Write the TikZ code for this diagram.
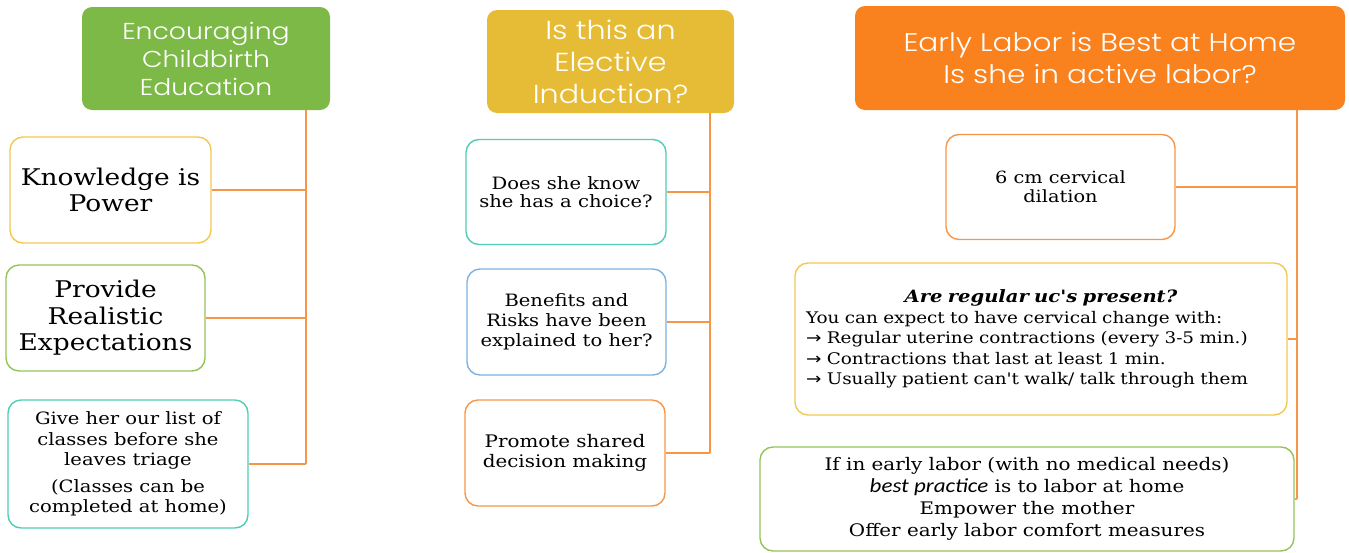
\documentclass[tikz,border=0pt]{standalone}
\usepackage{fontspec}
\setmainfont{DejaVu Serif}[FakeStretch=1.15,Ligatures=TeXOff]
\IfFontExistsTF{Poppins Light}
	{\setsansfont{Poppins Light}[FakeStretch=1.16]}
	{\setsansfont{Poppins}[FakeStretch=1.16]}
\newfontfamily\arrowfont{DejaVu Sans}[FakeStretch=1.15]
\newfontfamily\calfont{Carlito}[FakeStretch=1.15]
\usetikzlibrary{calc}

\definecolor{headgreen}{RGB}{125,185,70}
\definecolor{headgold}{RGB}{230,188,55}
\definecolor{headorange}{RGB}{250,130,30}
\definecolor{linkorange}{RGB}{247,150,70}
\definecolor{bordgold}{RGB}{242,200,80}
\definecolor{bordgreen}{RGB}{146,196,90}
\definecolor{bordteal}{RGB}{80,205,180}
\definecolor{bordblue}{RGB}{125,178,225}

\newcommand{\ra}{{\arrowfont →}\ }

\begin{document}
\begin{tikzpicture}[x=1pt,y=-1pt,
	head/.style={fill=#1,rounded corners=10pt,text=white,align=center,inner sep=0pt,font=\sffamily},
	card/.style={draw=#1,line width=1.4pt,rounded corners=13pt,fill=white,align=center,inner sep=0pt},
	link/.style={draw=linkorange,line width=1.8pt}]
				\useasboundingbox (0,0) rectangle (1349,552);
				% headers
				\node[head=headgreen,minimum width=248pt,minimum height=103pt,font=\sffamily\fontsize{23}{28}\selectfont] (edu) at (206,58.5) {Encouraging\\Childbirth\\Education};
				\node[head=headgold,minimum width=247pt,minimum height=103pt,font=\sffamily\fontsize{26}{32}\selectfont] (ind) at (610.5,61.5) {Is this an\\Elective\\Induction?};
				\node[head=headorange,minimum width=490pt,minimum height=104pt,font=\sffamily\fontsize{25.5}{32}\selectfont] (lab) at (1100,58) {Early Labor is Best at Home\\Is she in active labor?};
				% trunk positions
				\coordinate (t1) at (306,0);
				\coordinate (t2) at (710,0);
				\coordinate (t3) at (1297,0);
				% first column
				\node[card=bordgold,minimum width=201pt,minimum height=106pt,font=\fontsize{23}{26.5}\selectfont] (know) at (110.5,190) {Knowledge is\\Power};
				\node[card=bordgreen,minimum width=199pt,minimum height=106pt,font=\fontsize{23}{26.5}\selectfont] (real) at (105.5,318) {Provide\\Realistic\\Expectations};
				\node[card=bordteal,minimum width=240pt,minimum height=128pt,font=\fontsize{17}{20.5}\selectfont] (list) at (128,464) {Give her our list of\\classes before she\\leaves triage\\[6pt](Classes can be\\completed at home)};
				% second column
				\node[card=bordteal,minimum width=200pt,minimum height=105pt,font=\fontsize{17}{18.5}\selectfont] (choice) at (566,192) {Does she know\\she has a choice?};
				\node[card=bordblue,minimum width=199pt,minimum height=106pt,font=\fontsize{17}{20}\selectfont] (risk) at (566.5,322) {Benefits and\\Risks have been\\explained to her?};
				\node[card=linkorange,minimum width=200pt,minimum height=106pt,font=\fontsize{17.3}{20}\selectfont] (shared) at (565,453) {Promote shared\\decision making};
				% third column
				\node[card=linkorange,minimum width=229pt,minimum height=105pt,font=\fontsize{16.8}{19}\selectfont] (dil) at (1060.5,187) {6 cm cervical\\dilation};
				\node[card=bordgold,minimum width=492pt,minimum height=152pt,text width=470pt,align=left,font=\fontsize{16}{20.5}\selectfont] (uc) at (1041,339) {\makebox[470pt][c]{\fontsize{17}{20.5}\selectfont\textbf{\textit{Are regular uc's present?}}}\\You can expect to have cervical change with:\\\ra Regular uterine contractions (every 3-5 min.)\\\ra Contractions that last at least 1 min.\\\ra Usually patient can't walk/ talk through them};
				\node[card=bordgreen,minimum width=534pt,minimum height=104pt,font=\fontsize{17.3}{22}\selectfont] (home) at (1027,499) {If in early labor (with no medical needs)\\{\calfont\itshape\fontsize{20}{22}\selectfont best practice} is to labor at home\\Empower the mother\\Offer early labor comfort measures};
				% connectors
				\draw[link] (edu.south -| t1) -- (list.east -| t1);
				\draw[link] (know.east) -- (know.east -| t1);
				\draw[link] (real.east) -- (real.east -| t1);
				\draw[link] (list.east) -- (list.east -| t1);
				\draw[link] (ind.south -| t2) -- (shared.east -| t2);
				\draw[link] (choice.east) -- (choice.east -| t2);
				\draw[link] (risk.east) -- (risk.east -| t2);
				\draw[link] (shared.east) -- (shared.east -| t2);
				\draw[link] (lab.south -| t3) -- (home.east -| t3);
				\draw[link] (dil.east) -- (dil.east -| t3);
				\draw[link] (uc.east) -- (uc.east -| t3);
				\draw[link] (home.east) -- (home.east -| t3);
\end{tikzpicture}
\end{document}
